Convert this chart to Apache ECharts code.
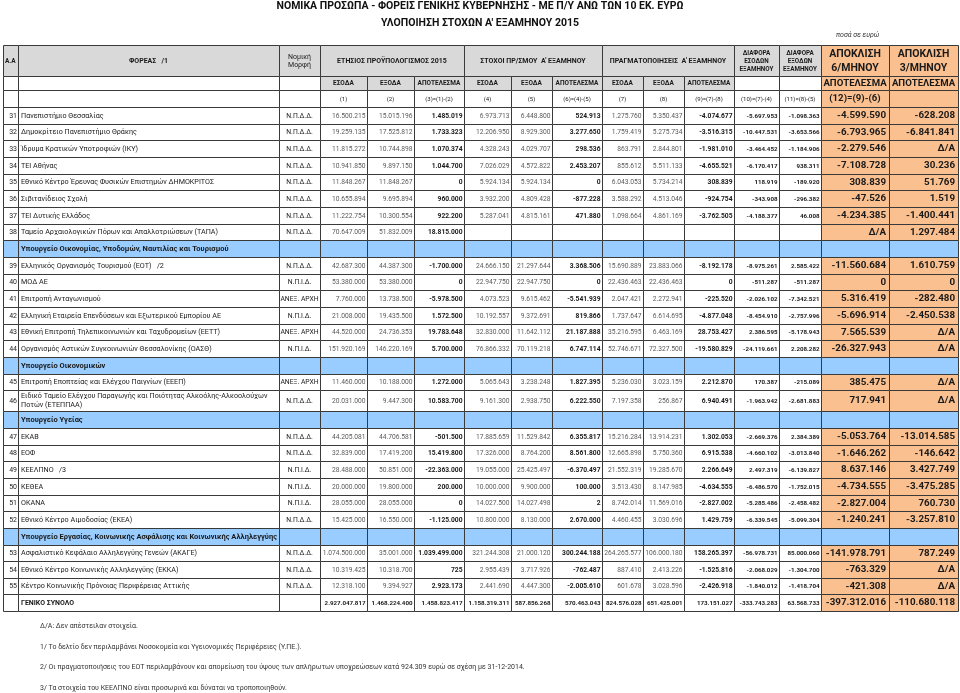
<!DOCTYPE html>
<html><head><meta charset="utf-8">
<script src="https://cdn.jsdelivr.net/npm/echarts@6/dist/echarts.min.js"></script>
<style>html,body{margin:0;padding:0;background:#fff}#chart{width:960px;height:693px}</style>
</head><body><div id="chart"></div>
<script>
// ---------------- DATA ----------------
const titleLine1 = 'ΝΟΜΙΚΑ ΠΡΟΣΩΠΑ - ΦΟΡΕΙΣ ΓΕΝΙΚΗΣ ΚΥΒΕΡΝΗΣΗΣ - ΜΕ Π/Υ ΑΝΩ ΤΩΝ 10 ΕΚ. ΕΥΡΩ';
const titleLine2 = "ΥΛΟΠΟΙΗΣΗ ΣΤΟΧΩΝ Α' ΕΞΑΜΗΝΟΥ 2015";
const unitNote = 'ποσά σε ευρώ';
const footnotes = [
  'Δ/Α: Δεν απέστειλαν στοιχεία.',
  '1/ Το δελτίο δεν περιλαμβάνει Νοσοκομεία και Υγειονομικές Περιφέρειες (Υ.ΠΕ.).',
  '2/ Οι πραγματοποιήσεις του ΕΟΤ περιλαμβάνουν και απομείωση του ύψους των απλήρωτων υποχρεώσεων κατά 924.309 ευρώ σε σχέση με 31-12-2014.',
  '3/ Τα στοιχεία του ΚΕΕΛΠΝΟ είναι προσωρινά και δύναται να τροποποιηθούν.'
];
const headerGroups = ['A.A', 'ΦΟΡΕΑΣ   /1', 'Νομική\nΜορφή', 'ΕΤΗΣΙΟΣ ΠΡΟΫΠΟΛΟΓΙΣΜΟΣ 2015', "ΣΤΟΧΟΙ ΠΡ/ΣΜΟΥ  Α' ΕΞΑΜΗΝΟΥ", "ΠΡΑΓΜΑΤΟΠΟΙΗΣΕΙΣ  Α' ΕΞΑΜΗΝΟΥ", 'ΔΙΑΦΟΡΑ\nΕΣΟΔΩΝ\nΕΞΑΜΗΝΟΥ', 'ΔΙΑΦΟΡΑ\nΕΞΟΔΩΝ\nΕΞΑΜΗΝΟΥ', 'ΑΠΟΚΛΙΣΗ\n6/ΜΗΝΟΥ', 'ΑΠΟΚΛΙΣΗ\n3/ΜΗΝΟΥ'];
const subHeaders = ['ΕΣΟΔΑ', 'ΕΞΟΔΑ', 'ΑΠΟΤΕΛΕΣΜΑ'];
const resultLabel = 'ΑΠΟΤΕΛΕΣΜΑ';
const formulaLabels = ['(1)', '(2)', '(3)=(1)-(2)', '(4)', '(5)', '(6)=(4)-(5)', '(7)', '(8)', '(9)=(7)-(8)', '(10)=(7)-(4)', '(11)=(8)-(5)', '(12)=(9)-(6)', ''];
const missingLabel = 'Δ/Α';
const totalLabel = 'ΓΕΝΙΚΟ ΣΥΝΟΛΟ';

const ministryGroups = [
  'Υπουργείο Οικονομίας, Υποδομών, Ναυτιλίας και Τουρισμού',
  'Υπουργείο Οικονομικών',
  'Υπουργείο Υγείας',
  'Υπουργείο Εργασίας, Κοινωνικής Ασφάλισης και Κοινωνικής Αλληλεγγύης'
];
const groupStartRow = [39, 45, 47, 53];

const rowNumbers = [31,32,33,34,35,36,37,38,39,40,41,42,43,44,45,46,47,48,49,50,51,52,53,54,55];
const entityNames = [
  'Πανεπιστήμιο Θεσσαλίας',
  'Δημοκρίτειο Πανεπιστήμιο Θράκης',
  'Ίδρυμα Κρατικών Υποτροφιών (ΙΚΥ)',
  'ΤΕΙ Αθήνας',
  'Εθνικό Κέντρο Έρευνας Φυσικών Επιστημών ΔΗΜΟΚΡΙΤΟΣ',
  'Σιβιτανίδειος Σχολή',
  'ΤΕΙ Δυτικής Ελλάδος',
  'Ταμείο Αρχαιολογικών Πόρων και Απαλλοτριώσεων (ΤΑΠΑ)',
  'Ελληνικός Οργανισμός Τουρισμού (ΕΟΤ)   /2',
  'ΜΟΔ ΑΕ',
  'Επιτροπή Ανταγωνισμού',
  'Ελληνική Εταιρεία Επενδύσεων και Εξωτερικού Εμπορίου ΑΕ',
  'Εθνική Επιτροπή Τηλεπικοινωνιών και Ταχυδρομείων (ΕΕΤΤ)',
  'Οργανισμός Αστικών Συγκοινωνιών Θεσσαλονίκης (ΟΑΣΘ)',
  'Επιτροπή Εποπτείας και Ελέγχου Παιγνίων (ΕΕΕΠ)',
  'Ειδικό Ταμείο Ελέγχου Παραγωγής και Ποιότητας Αλκοόλης-Αλκοολούχων\nΠοτών (ΕΤΕΠΠΑΑ)',
  'ΕΚΑΒ',
  'ΕΟΦ',
  'ΚΕΕΛΠΝΟ   /3',
  'ΚΕΘΕΑ',
  'ΟΚΑΝΑ',
  'Εθνικό Κέντρο Αιμοδοσίας (ΕΚΕΑ)',
  'Ασφαλιστικό Κεφάλαιο Αλληλεγγύης Γενεών (ΑΚΑΓΕ)',
  'Εθνικό Κέντρο Κοινωνικής Αλληλεγγύης (ΕΚΚΑ)',
  'Κέντρο Κοινωνικής Πρόνοιας Περιφέρειας Αττικής'
];
const legalForms = [
  'Ν.Π.Δ.Δ.','Ν.Π.Δ.Δ.','Ν.Π.Δ.Δ.','Ν.Π.Δ.Δ.','Ν.Π.Δ.Δ.','Ν.Π.Δ.Δ.','Ν.Π.Δ.Δ.','Ν.Π.Δ.Δ.',
  'Ν.Π.Δ.Δ.','Ν.Π.Ι.Δ.','ΑΝΕΞ. ΑΡΧΗ','Ν.Π.Ι.Δ.','ΑΝΕΞ. ΑΡΧΗ','Ν.Π.Ι.Δ.',
  'ΑΝΕΞ. ΑΡΧΗ','Ν.Π.Δ.Δ.',
  'Ν.Π.Δ.Δ.','Ν.Π.Δ.Δ.','Ν.Π.Ι.Δ.','Ν.Π.Ι.Δ.','Ν.Π.Ι.Δ.','Ν.Π.Δ.Δ.',
  'Ν.Π.Δ.Δ.','Ν.Π.Δ.Δ.','Ν.Π.Δ.Δ.'
];
// (1) (2) (3) annual budget 2015
const annualRevenue = [16500215,19259135,11815272,10941850,11848267,10655894,11222754,70647009,42687300,53380000,7760000,21008000,44520000,151920169,11460000,20031000,44205081,32839000,28488000,20000000,28055000,15425000,1074500000,10319425,12318100];
const annualExpenditure = [15015196,17525812,10744898,9897150,11848267,9695894,10300554,51832009,44387300,53380000,13738500,19435500,24736353,146220169,10188000,9447300,44706581,17419200,50851000,19800000,28055000,16550000,35001000,10318700,9394927];
const annualBalance = [1485019,1733323,1070374,1044700,0,960000,922200,18815000,-1700000,0,-5978500,1572500,19783648,5700000,1272000,10583700,-501500,15419800,-22363000,200000,0,-1125000,1039499000,725,2923173];
// (4) (5) (6) half-year targets
const targetRevenue = [6973713,12206950,4328243,7026029,5924134,3932200,5287041,null,24666150,22947750,4073523,10192557,32830000,76866332,5065643,9161300,17885659,17326000,19055000,10000000,14027500,10800000,321244308,2955439,2441690];
const targetExpenditure = [6448800,8929300,4029707,4572822,5924134,4809428,4815161,null,21297644,22947750,9615462,9372691,11642112,70119218,3238248,2938750,11529842,8764200,25425497,9900000,14027498,8130000,21000120,3717926,4447300];
const targetBalance = [524913,3277650,298536,2453207,0,-877228,471880,null,3368506,0,-5541939,819866,21187888,6747114,1827395,6222550,6355817,8561800,-6370497,100000,2,2670000,300244188,-762487,-2005610];
// (7) (8) (9) half-year actuals
const actualRevenue = [1275760,1759419,863791,855612,6043053,3588292,1098664,null,15690889,22436463,2047421,1737647,35216595,52746671,5236030,7197358,15216284,12665898,21552319,3513430,8742014,4460455,264265577,887410,601678];
const actualExpenditure = [5350437,5275734,2844801,5511133,5734214,4513046,4861169,null,23883066,22436463,2272941,6614695,6463169,72327500,3023159,256867,13914231,5750360,19285670,8147985,11569016,3030696,106000180,2413226,3028596];
const actualBalance = [-4074677,-3516315,-1981010,-4655521,308839,-924754,-3762505,null,-8192178,0,-225520,-4877048,28753427,-19580829,2212870,6940491,1302053,6915538,2266649,-4634555,-2827002,1429759,158265397,-1525816,-2426918];
// (10) (11) differences
const revenueDiff = [-5697953,-10447531,-3464452,-6170417,118919,-343908,-4188377,null,-8975261,-511287,-2026102,-8454910,2386595,-24119661,170387,-1963942,-2669376,-4660102,2497319,-6486570,-5285486,-6339545,-56978731,-2068029,-1840012];
const expenditureDiff = [-1098363,-3653566,-1184906,938311,-189920,-296382,46008,null,2585422,-511287,-7342521,-2757996,-5178943,2208282,-215089,-2681883,2384389,-3013840,-6139827,-1752015,-2458482,-5099304,85000060,-1304700,-1418704];
// (12) (13) deviations (null = Δ/Α)
const deviation6m = [-4599590,-6793965,-2279546,-7108728,308839,-47526,-4234385,null,-11560684,0,5316419,-5696914,7565539,-26327943,385475,717941,-5053764,-1646262,8637146,-4734555,-2827004,-1240241,-141978791,-763329,-421308];
const deviation3m = [-628208,-6841841,null,30236,51769,1519,-1400441,1297484,1610759,0,-282480,-2450538,null,null,null,null,-13014585,-146642,3427749,-3475285,760730,-3257810,787249,null,null];
// totals row
const grandTotals = [2927047817,1468224400,1458823417,1158319311,587856268,570463043,824576028,651425001,173151027,-333743283,63568733,-397312016,-110680118];

// ---------------- LAYOUT / STYLE ----------------
const FONT = 'Roboto, "Noto Sans", sans-serif';
const COL_EDGES = [0,15,276,317,364,411,461,508,549,599,640,681,731,776,818,886,955];
const HEADER_HEIGHTS = [31, 14, 17];
const BODY_ROW_H = 16.66;
const TALL_ROWS = {46: 21};
const C = {grey:'#D9D9D9', orange:'#FAC090', blue:'#99CCFF', white:'#FFFFFF', line:'#3A3A3A', text:'#1a1a1a', soft:'#5a5a5a'};
const valueSeries = [annualRevenue, annualExpenditure, annualBalance, targetRevenue, targetExpenditure, targetBalance, actualRevenue, actualExpenditure, actualBalance, revenueDiff, expenditureDiff, deviation6m, deviation3m];
const valueKinds = ['plain','plain','bold','plain','plain','bold','plain','plain','bold','small','small','big','big'];

function fmt(v) {
  const s = Math.abs(v).toString().replace(/\B(?=(\d{3})+(?!\d))/g, '.');
  return (v < 0 ? '-' : '') + s;
}

const cells = [];
function addCell(c0, c1, y0, y1, opt) {
  cells.push(Object.assign({x0: COL_EDGES[c0], x1: COL_EDGES[c1], y0: y0, y1: y1}, opt));
}
function valueCell(ci, y0, y1, v, isTotal) {
  const kind = valueKinds[ci];
  const col = ci + 3;
  let text = '';
  if (v === null || v === undefined) text = kind === 'big' ? missingLabel : '';
  else text = fmt(v);
  const st = {
    plain: {size: isTotal ? 6.2 : 6.7, weight: isTotal ? 'bold' : 'normal', color: isTotal ? C.text : C.soft},
    bold: {size: isTotal ? 6.2 : 6.7, weight: 'bold', color: C.text},
    small: {size: 6.2, weight: 'bold', color: C.text},
    big: {size: 9.8, weight: 'bold', color: C.text}
  }[kind];
  addCell(col, col + 1, y0, y1, Object.assign({text: text, align: 'right', fill: kind === 'big' ? C.orange : C.white, pad: kind === 'big' ? 3 : 1.5}, st));
}

// header rows
let y = 0;
const h1 = HEADER_HEIGHTS[0], h2 = HEADER_HEIGHTS[1], h3 = HEADER_HEIGHTS[2];
const hdrSmall = {size: 7, weight: 'bold', color: C.text, fill: C.grey, align: 'center'};
const hdrBig = {size: 10.5, weight: 'bold', color: C.text, fill: C.orange, align: 'center', lineHeight: 14};
addCell(0, 1, y, y + h1, Object.assign({}, hdrSmall, {text: headerGroups[0], align: 'left', pad: 1, size: 6.5}));
addCell(1, 2, y, y + h1, Object.assign({}, hdrSmall, {text: headerGroups[1]}));
addCell(2, 3, y, y + h1, Object.assign({}, hdrSmall, {text: headerGroups[2], weight: 'normal', lineHeight: 8.5}));
addCell(3, 6, y, y + h1, Object.assign({}, hdrSmall, {text: headerGroups[3]}));
addCell(6, 9, y, y + h1, Object.assign({}, hdrSmall, {text: headerGroups[4]}));
addCell(9, 12, y, y + h1, Object.assign({}, hdrSmall, {text: headerGroups[5]}));
addCell(12, 13, y, y + h1, Object.assign({}, hdrSmall, {text: headerGroups[6], size: 6.3, lineHeight: 8}));
addCell(13, 14, y, y + h1, Object.assign({}, hdrSmall, {text: headerGroups[7], size: 6.3, lineHeight: 8}));
addCell(14, 15, y, y + h1, Object.assign({}, hdrBig, {text: headerGroups[8]}));
addCell(15, 16, y, y + h1, Object.assign({}, hdrBig, {text: headerGroups[9]}));
y += h1;
for (let c = 0; c < 3; c++) addCell(c, c + 1, y, y + h2, {fill: C.white});
for (let c = 3; c < 12; c++) addCell(c, c + 1, y, y + h2, Object.assign({}, hdrSmall, {text: subHeaders[(c - 3) % 3], size: 6.5}));
addCell(12, 13, y, y + h2, {fill: C.white});
addCell(13, 14, y, y + h2, {fill: C.white});
addCell(14, 15, y, y + h2, Object.assign({}, hdrBig, {text: resultLabel, size: 9.6}));
addCell(15, 16, y, y + h2, Object.assign({}, hdrBig, {text: resultLabel, size: 9.6}));
y += h2;
for (let c = 0; c < 3; c++) addCell(c, c + 1, y, y + h3, {fill: C.white});
for (let c = 3; c < 14; c++) addCell(c, c + 1, y, y + h3, {text: formulaLabels[c - 3], size: 6, weight: 'normal', color: C.text, fill: C.white, align: 'center'});
addCell(14, 15, y, y + h3, Object.assign({}, hdrBig, {text: formulaLabels[11], size: 9.6}));
addCell(15, 16, y, y + h3, Object.assign({}, hdrBig, {text: formulaLabels[12]}));
y += h3;

// body rows
rowNumbers.forEach(function (num, i) {
  const g = groupStartRow.indexOf(num);
  if (g >= 0) {
    const y1 = y + BODY_ROW_H;
    addCell(0, 1, y, y1, {fill: C.blue});
    addCell(1, 2, y, y1, {fill: C.blue, text: ministryGroups[g], align: 'left', size: 7.5, weight: 'bold', color: C.text, pad: 2});
    for (let c = 2; c < 16; c++) addCell(c, c + 1, y, y1, {fill: C.blue});
    y = y1;
  }
  const h = TALL_ROWS[num] || BODY_ROW_H;
  const y1 = y + h;
  addCell(0, 1, y, y1, {text: String(num), align: 'right', size: 7, weight: 'normal', color: C.text, fill: C.white, pad: 1});
  addCell(1, 2, y, y1, {text: entityNames[i], align: 'left', size: 7.2, weight: 'normal', color: C.text, fill: C.white, pad: 2, lineHeight: 9});
  addCell(2, 3, y, y1, {text: legalForms[i], align: 'center', size: 6.8, weight: 'normal', color: C.text, fill: C.white});
  valueSeries.forEach(function (arr, ci) { valueCell(ci, y, y1, arr[i], false); });
  y = y1;
});
// total row
(function () {
  const y1 = y + BODY_ROW_H;
  addCell(0, 1, y, y1, {fill: C.white});
  addCell(1, 2, y, y1, {text: totalLabel, align: 'left', size: 7, weight: 'bold', color: C.text, fill: C.white, pad: 2});
  addCell(2, 3, y, y1, {fill: C.white});
  grandTotals.forEach(function (v, ci) { valueCell(ci, y, y1, v, true); });
  y = y1;
})();
const TABLE_H = y;

// ---------------- CHART ----------------
const chart = echarts.init(document.getElementById('chart'), null, {renderer: 'canvas'});
const footTitles = footnotes.map(function (t, k) {
  return {text: t, left: 40, top: 623 + k * 20.5, padding: 0, textStyle: {fontSize: 7, fontWeight: 'normal', fontFamily: FONT, color: '#333'}};
});
chart.setOption({
  animation: false,
  backgroundColor: '#fff',
  title: [
    {text: titleLine1, left: 'center', top: 1, padding: 0, textStyle: {fontSize: 10.5, fontWeight: 'bold', fontFamily: FONT, color: '#111'}},
    {text: titleLine2, left: 'center', top: 18, padding: 0, textStyle: {fontSize: 10.5, fontWeight: 'bold', fontFamily: FONT, color: '#111'}},
    {text: unitNote, left: 836, top: 32, padding: 0, textStyle: {fontSize: 7, fontStyle: 'italic', fontWeight: 'normal', fontFamily: FONT, color: '#333'}}
  ].concat(footTitles),
  grid: {left: 3, top: 45, width: COL_EDGES[COL_EDGES.length - 1], height: TABLE_H},
  xAxis: {type: 'value', min: 0, max: COL_EDGES[COL_EDGES.length - 1], show: false},
  yAxis: {type: 'value', min: 0, max: TABLE_H, inverse: true, show: false},
  series: [{
    type: 'custom',
    silent: true,
    clip: false,
    encode: {x: [0, 1], y: [2, 3]},
    data: cells.map(function (c) { return [c.x0, c.x1, c.y0, c.y1]; }),
    renderItem: function (params, api) {
      const c = cells[params.dataIndex];
      const p0 = api.coord([api.value(0), api.value(2)]);
      const p1 = api.coord([api.value(1), api.value(3)]);
      const rx = Math.round(p0[0]), ry = Math.round(p0[1]);
      const w = Math.round(p1[0]) - rx, h = Math.round(p1[1]) - ry;
      const children = [{type: 'rect', shape: {x: rx + 0.5, y: ry + 0.5, width: w, height: h}, style: {fill: c.fill, stroke: C.line, lineWidth: 1}}];
      if (c.text) {
        const pad = c.pad !== undefined ? c.pad : 2;
        let tx = rx + w / 2;
        if (c.align === 'left') tx = rx + pad + 1;
        if (c.align === 'right') tx = rx + w - pad;
        const st = {text: c.text, x: tx, y: ry + h / 2 + 0.5, align: c.align, verticalAlign: 'middle', fontSize: c.size, fontWeight: c.weight, fontFamily: FONT, fill: c.color};
        if (c.lineHeight) st.lineHeight = c.lineHeight;
        children.push({type: 'text', style: st});
      }
      return {type: 'group', children: children};
    }
  }]
});
</script>
</body></html>
